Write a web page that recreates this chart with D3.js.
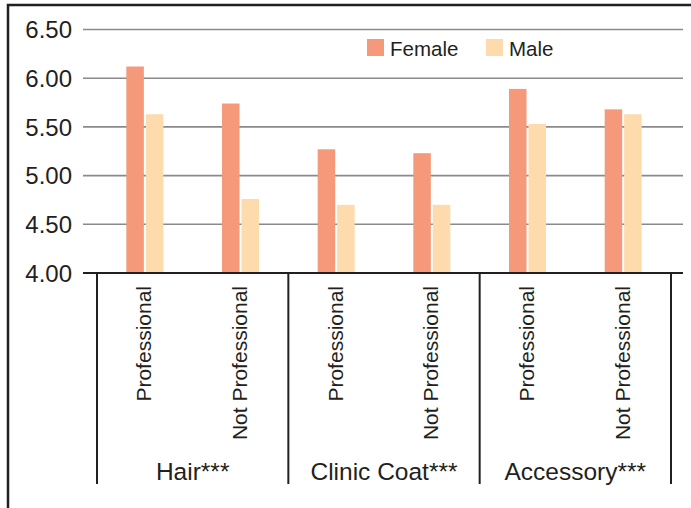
<!DOCTYPE html>
<html>
<head>
<meta charset="utf-8">
<script src="https://cdn.jsdelivr.net/npm/d3@7"></script>
<style>
  body { margin: 0; background: #fff; }
  svg { display: block; font-family: "Liberation Sans", Arial, sans-serif; }
</style>
</head>
<body>
<div id="chart"></div>
<script>
const groups = ['Hair***', 'Clinic Coat***', 'Accessory***'];
const conditions = ['Professional', 'Not Professional'];
const series = ['Female', 'Male'];
const femaleValues = [6.12, 5.74, 5.27, 5.23, 5.89, 5.68];
const maleValues = [5.63, 4.76, 4.70, 4.70, 5.53, 5.63];
const yTicks = [4.0, 4.5, 5.0, 5.5, 6.0, 6.5];
const colors = { Female: '#f5997a', Male: '#fddbad' };

const width = 691, height = 508;
const ink = '#231f20';

const items = groups.flatMap((g, gi) => conditions.map((c, ci) => ({
  key: `${gi}-${ci}`,
  group: g,
  condition: c,
  Female: femaleValues[gi * 2 + ci],
  Male: maleValues[gi * 2 + ci],
})));

const svg = d3.select('#chart').append('svg')
  .attr('width', width)
  .attr('height', height);

const x0 = d3.scaleBand().domain(items.map(d => d.key)).range([97, 671]);
const x1 = d3.scaleBand().domain(series).range([-18.5, 18.5]).paddingInner(0.1);
const y = d3.scaleLinear().domain([4, 6.5]).range([273, 29.5]);

// frame
svg.append('path')
  .attr('d', `M8,${height} V5 H${width}`)
  .attr('fill', 'none')
  .attr('stroke', ink)
  .attr('stroke-width', 2.5);

// grid lines
svg.append('g')
  .selectAll('line')
  .data(yTicks.filter(t => t > 4))
  .join('line')
  .attr('x1', 83).attr('x2', 683)
  .attr('y1', d => y(d)).attr('y2', d => y(d))
  .attr('stroke', '#8a8a8a')
  .attr('stroke-width', 1.6);

// tick labels
svg.append('g')
  .selectAll('text')
  .data(yTicks)
  .join('text')
  .attr('x', 72)
  .attr('y', d => y(d))
  .attr('dy', '0.36em')
  .attr('text-anchor', 'end')
  .attr('font-size', 24)
  .attr('fill', ink)
  .text(d => d3.format('.2f')(d));

// bars
const slot = svg.append('g')
  .selectAll('g')
  .data(items)
  .join('g')
  .attr('transform', d => `translate(${x0(d.key) + x0.bandwidth() / 2},0)`);

slot.selectAll('rect')
  .data(d => series.map(s => ({ s, v: d[s] })))
  .join('rect')
  .attr('x', d => x1(d.s))
  .attr('width', x1.bandwidth())
  .attr('y', d => y(d.v))
  .attr('height', d => y(4) - y(d.v))
  .attr('fill', d => colors[d.s]);

// baseline
svg.append('line')
  .attr('x1', 83).attr('x2', 683)
  .attr('y1', y(4)).attr('y2', y(4))
  .attr('stroke', ink)
  .attr('stroke-width', 2);

// group separators
const sepX = groups.map((g, gi) => x0(`${gi}-0`)).concat([x0.range()[1]]);
svg.append('g')
  .selectAll('line')
  .data(sepX)
  .join('line')
  .attr('x1', d => d).attr('x2', d => d)
  .attr('y1', y(4)).attr('y2', 484)
  .attr('stroke', ink)
  .attr('stroke-width', 2);

// condition labels
slot.append('text')
  .attr('transform', 'translate(-1,286) rotate(-90)')
  .attr('dy', '0.36em')
  .attr('text-anchor', 'end')
  .attr('font-size', 21)
  .attr('fill', ink)
  .text(d => d.condition);

// group labels
svg.append('g')
  .selectAll('text')
  .data(groups)
  .join('text')
  .attr('x', (d, i) => (sepX[i] + sepX[i + 1]) / 2)
  .attr('y', 480)
  .attr('text-anchor', 'middle')
  .attr('font-size', 24.5)
  .attr('fill', ink)
  .text(d => d);

// legend
const legend = svg.append('g')
  .selectAll('g')
  .data(series)
  .join('g')
  .attr('transform', (d, i) => `translate(${[367, 486][i]},39)`);

legend.append('rect')
  .attr('width', 17).attr('height', 17)
  .attr('fill', d => colors[d]);

legend.append('text')
  .attr('x', 23)
  .attr('y', 17)
  .attr('font-size', 20.5)
  .attr('fill', ink)
  .text(d => d);
</script>
</body>
</html>
